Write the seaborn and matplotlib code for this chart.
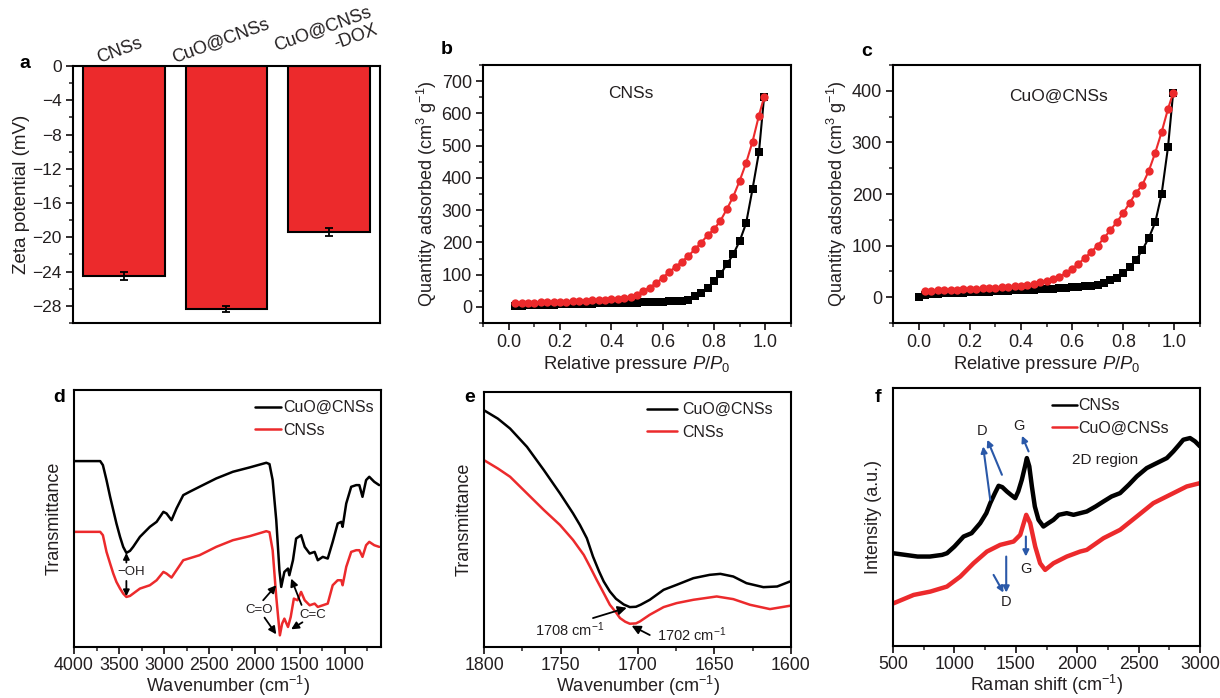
import matplotlib
matplotlib.use("Agg")
import matplotlib.pyplot as plt
from matplotlib.ticker import MultipleLocator, NullLocator, FormatStrFormatter
import seaborn as sns

# ---------------- data ----------------
zeta_labels = ["CNSs", "CuO@CNSs", "CuO@CNSs\n-DOX"]
zeta_mean = [-24.5, -28.4, -19.4]
zeta_err = [0.45, 0.35, 0.45]

p_grid = [0.025, 0.05, 0.075, 0.1, 0.125, 0.15, 0.175, 0.2, 0.225, 0.25,
          0.275, 0.3, 0.325, 0.35, 0.375, 0.4, 0.425, 0.45, 0.475, 0.5,
          0.525, 0.55, 0.575, 0.6, 0.625, 0.65, 0.675, 0.7, 0.725, 0.75,
          0.775, 0.8, 0.825, 0.85, 0.875, 0.9, 0.925, 0.95, 0.975, 0.995]

b_black = [3, 4, 5, 5.5, 6, 6.5, 7, 7.5, 8, 8.5,
           9, 9.5, 10, 10.5, 11, 11.5, 12, 12.5, 13, 13.5,
           14, 14.5, 15, 16, 17, 18, 19, 22, 33, 44,
           59, 80, 101, 132, 163, 204, 259, 365, 479, 650]
b_red = [12, 12.5, 13, 13.5, 14, 14.5, 15, 15.5, 16, 17,
         18, 19, 20, 21, 22, 23.5, 25, 27, 31, 38,
         50, 60, 74, 90, 108, 124, 140, 158, 178, 199,
         222, 241, 267, 303, 342, 391, 446, 512, 593, 650]

c_black_p = [0.0] + p_grid
c_black = [1, 4, 5.5, 6.5, 7.5, 8, 8.5, 9, 9.5, 10, 10.5,
           11, 11.5, 12, 12.5, 13, 13.5, 14, 14.5, 15, 15.5,
           16, 17, 18, 19, 20, 21, 22, 24, 28, 33,
           38, 46, 58, 72, 92, 115, 145, 200, 291, 396]
c_red = [11.5, 12.5, 13, 13.5, 14, 14.5, 15, 16, 16.5, 17,
         17.5, 18.5, 19, 20, 21, 22.5, 24, 26, 29, 32,
         35, 40, 46, 55, 65, 76, 88, 100, 115, 130,
         146, 163, 183, 202, 218, 245, 280, 320, 365, 396]

d_wn_black = [4000, 3710, 3680, 3640, 3600, 3565, 3530, 3490, 3455, 3420,
              3380, 3345, 3270, 3160, 3085, 3010, 2975, 2920, 2865, 2790,
              2720, 2610, 2425, 2240, 2055, 1870, 1835, 1800, 1760, 1725,
              1705, 1670, 1630, 1615, 1575, 1540, 1485, 1445, 1390, 1335,
              1300, 1245, 1190, 1135, 1080, 1040, 1025, 985, 930, 875,
              840, 805, 765, 730, 675, 620]
d_black = [62.7, 62.7, 61.5, 57, 52, 48, 44, 40, 37, 35.2,
           35.8, 37, 40, 43, 44.5, 47.5, 47, 45, 48.5, 52.5,
           53.5, 55, 57.5, 59.5, 60.8, 62.2, 61.8, 57, 45, 30,
           25, 29.5, 30.5, 28.5, 33, 39.5, 40.5, 37, 35, 35.5,
           33, 34, 33.5, 38.5, 44, 44.5, 43, 50, 55, 55.5,
           55.5, 52, 57, 58, 56.5, 55.5]
d_wn_red = [4000, 3710, 3680, 3640, 3600, 3565, 3530, 3490, 3455, 3420,
            3380, 3345, 3270, 3160, 3085, 3010, 2975, 2920, 2865, 2790,
            2610, 2425, 2240, 2055, 1870, 1835, 1800, 1760, 1720, 1695,
            1670, 1630, 1600, 1565, 1525, 1485, 1445, 1390, 1335, 1300,
            1245, 1190, 1135, 1080, 1040, 1025, 985, 930, 875, 840,
            805, 765, 730, 675, 620]
d_red = [41.5, 41.5, 40.5, 35.5, 32, 29, 26.5, 24.5, 23, 22,
         22.3, 23, 24.5, 25.5, 27, 29.5, 29, 27.8, 30, 33,
         34.5, 37, 39, 40.2, 41.7, 41.4, 36, 22, 10.5, 14,
         15.5, 13, 16, 21.5, 21, 23.5, 21, 19.5, 20, 19,
         19.5, 20, 25.5, 27, 27, 25.5, 31, 35.5, 36, 36,
         34, 37.5, 38.5, 37.5, 37]

e_wn_black = [1800, 1791, 1783, 1772, 1761, 1750.5, 1742, 1737.5, 1733, 1729,
              1725, 1722, 1718, 1714, 1709, 1705, 1701, 1698, 1692, 1683,
              1674.5, 1663.6, 1653, 1646, 1637.6, 1629, 1618, 1609, 1600.7]
e_black = [78, 75.5, 72.5, 67, 60, 53, 47, 43.5, 39.5, 34,
           29.5, 26.5, 23.5, 21.3, 19.6, 18.8, 18.9, 19.5, 21, 24,
           25.5, 27.5, 28.5, 28.8, 28, 26, 24.8, 25, 26.5]
e_wn_red = [1800, 1791, 1783, 1772, 1761, 1750.5, 1742, 1735, 1731, 1726.6,
            1722, 1718, 1714, 1711.4, 1708, 1705, 1701, 1698.4, 1692, 1683,
            1674.5, 1663.6, 1648.4, 1637.6, 1626.7, 1613.7, 1600.7]
e_red = [63, 60.5, 58, 53, 48, 43.5, 39, 34.5, 31, 27,
         23, 19.5, 17.2, 15.5, 14.4, 13.8, 13.9, 14.5, 16.5, 18.8,
         20, 21, 22, 21.2, 19.5, 18.2, 19.2]

f_shift_black = [500, 600, 700, 800, 900, 940, 1000, 1075, 1140, 1210,
                 1260, 1292, 1330, 1360, 1390, 1427, 1460, 1495, 1520, 1549,
                 1575, 1590, 1610, 1631, 1655, 1685, 1725, 1765, 1807, 1850,
                 1915, 1970, 2024, 2078, 2150, 2214, 2280, 2349, 2420, 2485,
                 2566, 2620, 2675, 2730, 2783, 2830, 2864, 2919, 2960, 3000]
f_black = [35, 34.5, 34, 34, 34.5, 35, 37, 40, 41, 44,
           47, 50, 53, 55.2, 54.8, 53.5, 52.5, 51.5, 53.5, 57,
           61, 63.5, 61, 55, 49, 45, 43, 44, 45, 46.5,
           47, 46.5, 47, 47.5, 49, 50.5, 52, 53, 55.5, 58,
           60.5, 61.5, 62.5, 63.5, 65.5, 67.5, 69, 69.5, 68.5, 67]
f_shift_red = [505, 668, 804, 939, 1048, 1156, 1265, 1373, 1482, 1536,
               1585, 1617, 1658, 1698, 1739, 1807, 1915, 2024, 2078, 2214,
               2349, 2485, 2620, 2756, 2892, 3000]
f_red = [20, 22.5, 23.5, 25, 28, 32, 35.5, 37.5, 38.5, 40.5,
         46.5, 44, 37, 32, 30, 32, 34, 35.5, 36, 39.5,
         42, 46, 50, 52.5, 55, 56]

RED = "#ec2a2c"
BLUE = "#2a58a8"
INK = "#231f20"

sns.set_theme(style="ticks")
plt.rcParams["font.family"] = ["Liberation Sans", "DejaVu Sans"]
plt.rcParams["mathtext.fontset"] = "custom"
plt.rcParams["mathtext.rm"] = "Liberation Sans"
plt.rcParams["mathtext.it"] = "Liberation Sans:italic"
plt.rcParams["axes.linewidth"] = 1.5
plt.rcParams["text.color"] = INK
plt.rcParams["axes.labelcolor"] = INK
plt.rcParams["xtick.color"] = INK
plt.rcParams["ytick.color"] = INK

W, H = 1220, 698
fig = plt.figure(figsize=(W / 100, H / 100), dpi=100)


def box(l, r, t, b):
    return fig.add_axes([l / W, 1 - b / H, (r - l) / W, (b - t) / H])


def style(ax):
    for s in ax.spines.values():
        s.set_color("black")
        s.set_linewidth(1.5)
    ax.tick_params(which="major", direction="out", length=5, width=1.3,
                   labelsize=13, pad=3)
    ax.tick_params(which="minor", direction="out", length=3, width=1.1)


def arrow(ax, start, end, color="black", lw=1.3, ms=11):
    ax.annotate("", xy=end, xytext=start,
                arrowprops=dict(arrowstyle="-|>", color=color, lw=lw,
                                mutation_scale=ms, shrinkA=0, shrinkB=0))


def legend(ax, x, hl, pad):
    leg = ax.legend(frameon=False, loc="upper left", bbox_to_anchor=(x, 0.985),
                    fontsize=11.5, handlelength=hl, handletextpad=pad,
                    labelspacing=0.46, borderaxespad=0)
    for h in leg.get_lines():
        h.set_linewidth(1.8)


# ---------------- a ----------------
ax = box(73, 380, 66, 323)
sns.barplot(x=zeta_labels, y=zeta_mean, color=RED, saturation=1,
            edgecolor="black", linewidth=1.5, width=0.8, errorbar=None, ax=ax)
ax.errorbar(range(3), zeta_mean, yerr=zeta_err, fmt="none", ecolor="black",
            elinewidth=1.3, capsize=3, capthick=1.3)
style(ax)
ax.set_xlim(-0.5, 2.5)
ax.set_ylim(-30, 0)
ax.yaxis.set_major_locator(MultipleLocator(4))
ax.yaxis.set_minor_locator(MultipleLocator(2))
ax.tick_params(axis="y", labelsize=12.5)
ax.xaxis.tick_top()
ax.tick_params(axis="x", top=True, bottom=False, direction="in", length=4,
               labeltop=False, labelbottom=False)
ax.set_xlabel("")
ax.set_ylabel("Zeta potential (mV)", fontsize=13.5, labelpad=2)
for lab, (px, py) in zip(zeta_labels, [(120, 51), (221, 41), (326, 38)]):
    fig.text(px / W, 1 - py / H, lab, fontsize=13, rotation=20,
             ha="center", va="center", multialignment="right")

# ---------------- b ----------------
ax = box(483, 791, 65, 323)
sns.lineplot(x=p_grid, y=b_black, color="black", marker="s", markersize=5.5,
             markeredgewidth=0, lw=1.5, ax=ax)
sns.lineplot(x=p_grid, y=b_red, color=RED, marker="o", markersize=6,
             markeredgewidth=0, lw=1.5, ax=ax)
style(ax)
ax.set_xlim(-0.1, 1.1)
ax.set_ylim(-50, 750)
ax.xaxis.set_major_locator(MultipleLocator(0.2))
ax.xaxis.set_minor_locator(MultipleLocator(0.1))
ax.yaxis.set_major_locator(MultipleLocator(100))
ax.yaxis.set_minor_locator(MultipleLocator(50))
ax.xaxis.set_major_formatter(FormatStrFormatter("%.1f"))
ax.set_xlabel(r"Relative pressure $\it{P}$/$\it{P}_0$", fontsize=13.3, labelpad=2)
ax.set_ylabel(r"Quantity adsorbed (cm$^3$ g$^{-1}$)", fontsize=13, labelpad=2)
ax.text(0.48, 0.89, "CNSs", transform=ax.transAxes, fontsize=12.5,
        ha="center", va="center")

# ---------------- c ----------------
ax = box(893, 1200, 65, 323)
sns.lineplot(x=c_black_p, y=c_black, color="black", marker="s", markersize=5.5,
             markeredgewidth=0, lw=1.5, ax=ax)
sns.lineplot(x=p_grid, y=c_red, color=RED, marker="o", markersize=6,
             markeredgewidth=0, lw=1.5, ax=ax)
style(ax)
ax.set_xlim(-0.1, 1.1)
ax.set_ylim(-50, 450)
ax.xaxis.set_major_locator(MultipleLocator(0.2))
ax.xaxis.set_minor_locator(MultipleLocator(0.1))
ax.yaxis.set_major_locator(MultipleLocator(100))
ax.yaxis.set_minor_locator(MultipleLocator(50))
ax.xaxis.set_major_formatter(FormatStrFormatter("%.1f"))
ax.set_xlabel(r"Relative pressure $\it{P}$/$\it{P}_0$", fontsize=13.3, labelpad=2)
ax.set_ylabel(r"Quantity adsorbed (cm$^3$ g$^{-1}$)", fontsize=13, labelpad=2)
ax.text(0.54, 0.88, "CuO@CNSs", transform=ax.transAxes, fontsize=12.5,
        ha="center", va="center")

# ---------------- d ----------------
ax = box(74, 381, 390, 647)
sns.lineplot(x=d_wn_black, y=d_black, color="black", lw=1.8, sort=False,
             label="CuO@CNSs", ax=ax)
sns.lineplot(x=d_wn_red, y=d_red, color=RED, lw=1.8, sort=False,
             label="CNSs", ax=ax)
style(ax)
ax.set_xlim(4000, 600)
ax.set_ylim(7, 84)
ax.xaxis.set_major_locator(MultipleLocator(500))
ax.xaxis.set_minor_locator(MultipleLocator(250))
ax.yaxis.set_major_locator(NullLocator())
ax.tick_params(axis="x", labelsize=12.8, pad=2)
ax.set_xlabel(r"Wavenumber (cm$^{-1}$)", fontsize=13, labelpad=0)
ax.set_ylabel("Transmittance", fontsize=13, labelpad=8)
legend(ax, 0.568, 1.67, 0.12)
ax.text(3370, 29.5, "\u2212OH", fontsize=9.5, ha="center", va="center")
arrow(ax, (3420, 32.3), (3420, 35.2), ms=9)
arrow(ax, (3420, 26.8), (3420, 22.2), ms=9)
ax.text(1945, 18, "C=O", fontsize=9.5, ha="center", va="center")
arrow(ax, (1905, 21), (1760, 25.5))
arrow(ax, (1890, 15.8), (1760, 10.8))
ax.text(1355, 16.5, "C=C", fontsize=9.5, ha="center", va="center")
arrow(ax, (1480, 19.6), (1595, 27.5))
arrow(ax, (1470, 14.4), (1595, 12.3))

# ---------------- e ----------------
ax = box(484, 791, 392, 647)
sns.lineplot(x=e_wn_black, y=e_black, color="black", lw=1.8, sort=False,
             label="CuO@CNSs", ax=ax)
sns.lineplot(x=e_wn_red, y=e_red, color=RED, lw=1.8, sort=False,
             label="CNSs", ax=ax)
style(ax)
ax.set_xlim(1800, 1600)
ax.set_ylim(6.8, 83.5)
ax.xaxis.set_major_locator(MultipleLocator(50))
ax.xaxis.set_minor_locator(MultipleLocator(25))
ax.yaxis.set_major_locator(NullLocator())
ax.tick_params(axis="x", labelsize=12.8, pad=2)
ax.set_xlabel(r"Wavenumber (cm$^{-1}$)", fontsize=13, labelpad=0)
ax.set_ylabel("Transmittance", fontsize=13, labelpad=8)
legend(ax, 0.51, 1.9, 0.3)
ax.text(1744, 12, r"1708 cm$^{-1}$", fontsize=10.5, ha="center", va="center")
arrow(ax, (1729, 15.5), (1707, 18.6), ms=13)
ax.text(1664.5, 10.5, r"1702 cm$^{-1}$", fontsize=10.5, ha="center", va="center")
arrow(ax, (1692, 10.4), (1703.8, 13.2), ms=13)

# ---------------- f ----------------
ax = box(893, 1200, 388, 646)
sns.lineplot(x=f_shift_black, y=f_black, color="black", lw=3.2, sort=False,
             label="CNSs", ax=ax)
sns.lineplot(x=f_shift_red, y=f_red, color=RED, lw=3.2, sort=False,
             label="CuO@CNSs", ax=ax)
style(ax)
ax.set_xlim(500, 3000)
ax.set_ylim(7.2, 84.5)
ax.xaxis.set_major_locator(MultipleLocator(500))
ax.xaxis.set_minor_locator(MultipleLocator(250))
ax.yaxis.set_major_locator(NullLocator())
ax.tick_params(axis="x", labelsize=12.8, pad=2)
ax.set_xlabel(r"Raman shift (cm$^{-1}$)", fontsize=13, labelpad=0)
ax.set_ylabel("Intensity (a.u.)", fontsize=13, labelpad=8)
legend(ax, 0.496, 1.56, 0.08)
ax.text(1224, 71.5, "D", fontsize=10.5, ha="center", va="center")
arrow(ax, (1292, 51), (1234, 67), color=BLUE, lw=1.5, ms=9)
arrow(ax, (1387, 58.5), (1268, 69), color=BLUE, lw=1.5, ms=9)
ax.text(1522, 73.2, "G", fontsize=10.5, ha="center", va="center")
arrow(ax, (1604, 65.5), (1550, 70.2), color=BLUE, lw=1.5, ms=9)
ax.text(2227, 63, "2D region", fontsize=11, ha="center", va="center")
ax.text(1582, 30.2, "G", fontsize=10.5, ha="center", va="center")
arrow(ax, (1582, 40), (1582, 34), color=BLUE, lw=1.5, ms=9)
ax.text(1419, 20.5, "D", fontsize=10.5, ha="center", va="center")
arrow(ax, (1422, 34), (1422, 23.2), color=BLUE, lw=1.5, ms=9)
arrow(ax, (1319, 28.5), (1400, 23.2), color=BLUE, lw=1.5, ms=9)

# ---------------- panel letters ----------------
for letter, px, py in [("a", 25, 63), ("b", 447, 49), ("c", 867, 52),
                       ("d", 59, 398), ("e", 470, 398), ("f", 878, 398)]:
    fig.text(px / W, 1 - py / H, letter, fontsize=14, fontweight="bold",
             ha="center", va="center", color="black")

fig.savefig("out.png", dpi=100)
